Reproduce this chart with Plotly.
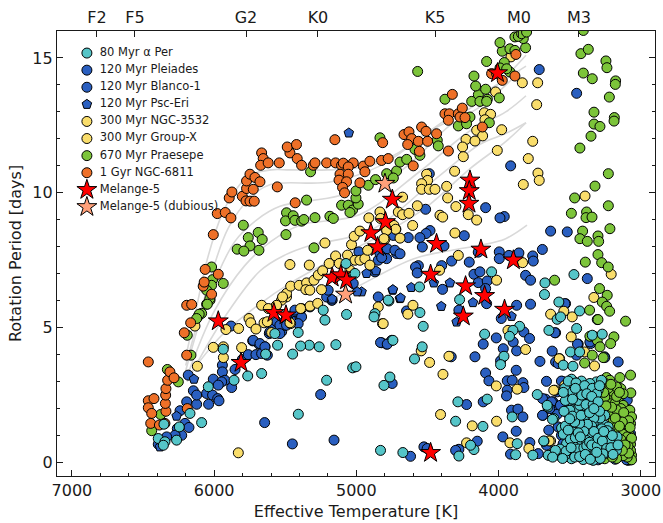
import plotly.graph_objects as go

ALPHA_PER = [(4556,6.51),(4049,7.07),(4274,6.04),(4553,5.56),(4530,5.05),(4743,4.53),(4771,5.99),(4537,4.29),(4591,3.84),(4098,4.76),(3962,3.94),(3986,3.63),(3852,5.05),(3899,4.9),(3923,4.68),(3674,6.66),(3677,6.23),(3470,6.97),(3576,5.95),(3588,5.31),(3564,5.4),(3430,5.62),(3646,4.9),(3451,4.97),(3494,4.1),(3430,4.1),(3341,4.72),(3271,4.76),(3545,3.61),(3477,3.57),(3728,2.52),(4080,2.35),(4286,2.25),(4764,3.17),(4806,2.86),(4302,1.53),(4110,1.34),(3904,1.69),(3869,.7),(3681,.79),(3646,.27),(3759,.27),(3880,.29),(4173,.48),(4197,.64),(4279,.24),(4673,.37),(3576,.27),(4830,.45),(3557,1.28),(3611,1.63),(3653,2.06),(3494,3.05),
(5073,7.38),(5010,7.01),(5221,5.28),(5233,5.65),(5409,4.82),(5573,4.78),(5069,5.49),(4869,5.52),(4876,5.4),(4776,6.02),(5144,4.37),(5261,4.29),(5331,4.35),(5392,4.32),(5554,4.35),(5936,4.2),(6041,2.81),(5860,3.05),(5764,3.21),(5666,3.3),(5638,4.02),(5448,4.02),(5209,3.05),(5408,1.79),(6088,1.48),(6170,1.82),(6353,1.42),(6245,1.32),(6264,.83),(6393,.89),(6346,.77),(6357,.64),(5026,3.51),(5003,3.55),
(3487,3.09),(3417,3.02),(3312,2.99),(3300,2.68),(3447,2.55),(3358,2.49),(3405,2.37),(3323,2.37),(3476,2.12),(3658,2.12),(3382,1.96),(3452,1.94),(3621,1.6),(3316,1.81),(3312,1.47),(3265,1.44),(3487,1.42),(3405,1.59),(3452,1.59),(3358,1.57),(3229,1.32),(3447,1.29),(3412,1.01),(3288,1.01),(3347,1.01),(3166,.95),(3323,.8),(3417,.68),(3246,.7),(3190,.55),(3347,.48),(3682,.8),(3651,.27),(3581,.31),(3511,.39),(3452,.33),(3370,.23),(3300,.2),(3229,.39),(3487,.14),(3405,.45),(3476,.64),(3534,.27),(3464,2.31),(3499,1.94),(3429,2.12),(3370,2.18),(3253,1.75),(3417,1.32),(3370,1.26),(3476,1.13),(3382,.82),(3440,.5),(3276,.52),(3323,.33),(3253,1.01),(3218,.82),(3511,2.43),(3394,2.68),(3429,2.74),(3358,2.93),(3276,3.05),(3476,2.86),(3499,2.31),(3522,.7),(3569,.5),(3405,.11),(3335,.08),(3253,.33),(3171,.45),
(3540,1.9),(3545,1.05),(3530,1.35),(3535,2.75),(3510,3.02),(3480,2.62),(3455,2.95),(3440,2.3),(3415,2.5),(3395,2.85),(3385,2.15),(3340,2.75),(3335,2.15),(3310,2.55),(3290,2.85),(3285,1.65),(3300,1.2),(3275,1.25),(3330,1.65),(3345,1.35),(3330,1.15),(3390,1.75),(3375,1.42),(3400,1.15),(3430,1.45),(3465,1.5),(3480,1.72),(3500,1.62),(3510,1.2),(3495,.85),(3460,.92),(3440,1.1),(3425,.95),(3400,.55),(3380,.62),(3360,.75),(3345,.65),(3305,.62),(3300,.9),(3270,.8),(3240,.52),(3265,.32),(3285,.15),(3210,.55),(3195,.3),(3160,.65),(3215,1.1),(3235,1.18),(3200,1.0),(3525,.42),(3490,.55),(3465,.2),(3430,.22),(3390,.3),(3355,.12),(3310,.38),(3550,.15),(3600,.45),(3620,.2),(3460,2.75),(3380,2.55),(3345,2.45),(3300,2.25),(3290,1.9),(3260,1.15),(3530,2.3),(3545,2.6),(3480,2.35),(3420,1.75),(3360,1.85),(3330,2.0)]

PLEIADES = [(5877,2.78),(5942,3.61),(5942,3.36),(5924,3.05),(6006,3.09),(5947,2.99),(5971,2.87),(6053,2.56),(6011,2.5),(5975,2.37),(5966,2.29),(6039,2.16),(6123,2.16),(6146,2.66),(6123,2.5),(6193,2.25),(6240,1.92),(6205,1.45),(6177,1.3),(6259,1.26),(6228,1.01),(6275,1.01),(6334,.95),(6393,.68),(6182,3.24),(5853,3.45),(5802,3.82),(5760,4.0),(5706,4.0),(5729,4.51),(5685,4.39),(5642,4.29),(5666,4.04),(5626,3.98),(5645,1.48),(5450,.69),(5251,2.52),(5157,.83),(5881,5.06),(5612,4.78),(5584,5.03),(5525,4.85),(5560,5.22),(5502,5.09),(5467,5.4),(5420,5.28),(5396,5.4),(5431,5.59),(5174,6.02),(5725,4.53),(5678,4.41),(5643,4.29),(5608,4.84),(5538,5.09),(5432,5.65),(5385,5.4),(5409,5.15),(5326,5.77),(5209,6.14),(5198,6.39),(5170,6.02),(5027,7.01),(5022,6.64),(4846,6.14),(4823,4.44),(4752,4.53),(4787,4.39),(4846,7.5),(4787,7.56),(4834,7.75),(4783,7.93),(4717,7.75),(4982,7.81),(4869,7.07),(5491,5.4),(5491,5.09),(5538,4.78),
(3714,14.57),(3451,13.69),(3915,11.0),(4091,9.45),(3960,9.12),(3990,9.07),(4513,9.39),(4482,8.6),(4510,8.49),(4553,8.34),(4635,8.34),(4740,8.42),(4241,8.41),(3634,8.58),(3517,8.55),(3692,7.9),(4536,7.99),(4384,8.03),(4729,7.87),(4693,7.74),(4822,7.6),(4330,7.47),(4206,7.43),(3995,7.81),(3995,7.56),(3927,7.68),(3857,7.77),(3760,7.66),(3756,7.47),(4487,10.71),(4564,7.3),(4400,7.3),(4143,7.8)]

BLANCO = [(4584,7.25),(4572,7.03),(4173,6.98),(4131,7.07),(4143,6.67),(4080,6.73),(4091,6.45),(4084,5.89),(4394,6.42),(3810,6.94),(3775,6.76),(3775,5.87),(3873,5.83),(3981,5.34),(4279,5.65),(4647,5.62),(3822,4.84),(3782,4.6),(4016,4.62),(4108,4.39),(3897,4.47),(3967,4.22),(3873,4.14),(3623,4.13),(4166,3.92),(4333,3.92),(3986,3.77),(3709,3.75),(3876,3.42),(4091,3.32),(4068,3.03),(3939,3.03),(3904,3.05),(3829,2.96),(3939,2.68),(3944,2.47),(3822,2.78),(4748,2.93),(4830,4.45),(4783,4.39),(4225,2.15),(4108,2.25),(3909,1.94),(3864,1.98),(3829,1.69),(3688,1.75),(3876,1.16),(3970,.95),(4150,.79),(4279,.49),(4302,.45),(4525,.58),(4502,.52),(4619,.23),(3916,.31),(3780,.74),(3721,.33),(3541,.7),(3670,2.35),(3658,2.19),(3618,2.25),(3552,2.12),(3611,1.94),(3587,1.79),(3552,3.01),(3587,2.62),(3599,3.73),(3440,4.39),(3353,4.41),(3255,3.92),(3159,3.73),(3529,5.89),(3376,6.82),(3306,5.3),(3599,4.81),(3470,2.99),(3095,2.31),(3083,1.94),(3072,.21),(3072,1.07),(3663,3.01),(3558,3.02),(3691,2.37),(3628,2.25),(3565,2.12),(3691,1.75),(3640,2.0),(3647,1.2),(3581,1.32),(3558,1.01),(3546,.7),(3511,1.81),(3096,1.94),(3663,.64),(3089,.08),(3534,5.89),(3604,4.81),(3445,4.39),(3358,4.47),(3452,3.98),(3581,3.67),(3253,3.89),(3085,.15),(3070,.1),(3100,.1),(3180,.12),(3300,.1),(3400,.15),(3500,.2),(3560,.35)]

PSC_ERI = [(5053,12.22),(4928,7.01),(4862,7.11),(4963,6.33),(4994,6.33),(5170,6.06),(4745,6.39),(4694,6.08),(4743,6.41),(4689,6.1),(4614,6.49),(4342,6.66),(4403,5.79),(4180,5.93),(4455,6.66),(4295,5.21),(3909,5.42),(6142,3.09),(6264,1.72),(6381,.58)]

NGC3532 = [(5830,.36),(6118,3.57),(6006,4.27),(5935,4.29),(5935,3.89),(5807,4.26),(6135,5.06),(5917,4.93),(5828,4.97),(5755,5.34),(5743,5.18),(5706,4.95),(5649,5.18),(5626,5.22),(5666,5.83),(5596,4.82),(5462,5.15),(5565,5.8),(5619,5.71),(5385,5.71),(5326,5.8),(5272,5.9),(5467,5.18),(5491,6.14),(5526,6.02),(5491,6.27),(5462,6.54),(5402,6.57),(5350,6.66),(5355,6.41),(5327,6.39),(5298,6.76),(5245,6.41),(5268,6.95),(5237,7.11),(5467,7.34),(5331,7.32),(5221,8.14),(5146,7.66),(5191,7.38),(5120,7.38),(5062,7.69),(5034,8.08),(5015,8.39),(4975,8.58),(5010,7.5),(4975,7.5),(4940,7.56),(4921,7.87),(4905,7.32),(5045,7.13),(4912,9.07),(4834,9.29),(4830,9.05),(4787,8.61),(4722,8.65),(4846,5.77),(4816,5.15),(4799,8.28),(4788,8.8),(5519,6.14),(5561,5.83),(5392,5.71)]

GROUP_X = [(3833,14.08),(3725,14.08),(4021,13.74),(3732,13.27),(4100,12.97),(4056,12.91),(4096,12.71),(3913,15.04),(3978,12.34),(4154,12.32),(4112,12.11),(4229,11.98),(4166,11.92),(4253,11.7),(4009,11.57),(3760,11.91),(4248,11.34),(3791,11.27),(4309,10.8),(4506,10.69),(3723,10.73),(3714,10.46),(3826,10.31),(4499,10.46),(4541,10.34),(4541,10.13),(4487,10.13),(4447,10.13),(4365,10.24),(4675,9.84),(4358,9.81),(4571,9.52),(4300,9.49),(3392,9.88),(4705,9.29),(4675,9.19),(4630,9.24),(4412,9.17),(4393,9.1),(4213,9.19),(4154,8.99),(4604,8.79),(4736,8.79),(4724,8.65),(4693,8.32),(4787,8.61),(4806,8.3),(4307,8.51),(4283,7.68),(3831,7.41),(4415,7.13),(4014,6.76),(4602,5.83),(4638,5.5),(4811,5.15),(4544,4.14),(4485,3.71),(4391,3.27),(4349,3.94),(3934,4.9),(3810,4.19),(3634,5.5),(3482,5.4),(3489,4.66),(3330,6.12),(3208,6.98),(3571,3.85),(3325,3.58),(3395,4.1),(4016,2.84),(3869,2.72),(3604,2.68),(3534,2.86),(4408,1.78),(4185,1.36),(4014,1.53),(4225,.73),(3920,.73),(3787,.52),(3634,.8),(3447,1.69),(3612,2.68),(3452,1.71),(3644,.8),(3541,5.61),(3574,3.85)]

PRAESEPE = [(6329,3.45),(6252,2.99),(6439,1.18),(6376,1.78),(6111,5.43),(6088,5.53),(6053,5.87),(6029,6.02),(6163,3.98),(6018,7.25),(6011,6.78),(6018,6.57),(5936,6.64),(6053,6.39),(6030,6.08),(6048,5.87),(6105,5.5),(6123,5.34),(6189,4.72),(5795,8.8),(5760,8.34),(5690,8.53),(5662,8.27),(5748,8.03),(5838,7.91),(5791,7.84),(5685,7.87),(5495,8.45),(5491,9.26),(5498,8.96),(5444,9.15),(5432,8.98),(5385,8.95),(5369,9.01),(5291,9.08),(5186,9.13),(5162,9.05),(5350,9.73),(5298,7.96),(5322,10.78),(5104,9.54),(5057,9.54),(5027,9.36),(5045,9.27),(4987,9.58),(5003,9.81),(5003,10.07),(4916,10.28),(4865,10.49),(4787,10.71),(4717,10.81),(4740,10.55),(4693,11.14),(4646,11.24),(4588,11.61),(4553,11.39),(4431,11.95),(4424,11.74),(4834,12.04),(4377,13.47),(4201,12.81),(4283,12.48),(4225,12.56),(4065,12.6),(4189,13.39),(4142,13.64),(4131,13.39),(4079,13.47),(4084,13.39),(4091,13.84),(4161,13.96),(4173,14.33),(3995,13.52),(4084,14.87),(4569,14.5),(3960,14.83),(3990,14.63),(3920,14.48),(3943,14.6),(3974,15.25),(3990,15.57),(3920,15.34),(3885,15.28),(3810,15.38),(3826,15.72),(3885,15.78),(3861,15.8),(3838,15.9),(3803,15.96),(3404,16.02),
(3421,15.16),(3369,15.32),(3404,14.44),(3341,14.23),(3245,14.89),(3238,14.64),(3177,14.15),(3179,14.02),(3221,13.55),(3329,12.99),(3329,12.55),(3287,12.46),(3186,12.79),(3188,12.66),(3350,12.1),(3428,11.66),(3228,10.71),(3322,10.25),(3465,9.81),(3228,9.52),(3488,9.24),(3381,9.29),(3385,9.08),(3343,9.1),(3217,8.67),(3409,8.58),(3428,8.3),(3376,8.2),(3301,8.4),(3296,8.2),(3301,7.71),(3390,7.43),(3275,7.41),(3229,7.25),(3606,6.76),(3290,6.45),(3236,6.2),(3271,5.95),(3240,5.79),(3219,5.61),(3360,5.65),(3301,5.3),(3107,5.24),(3358,4.68),(3330,4.68),(3306,4.53),(3189,4.66),(3212,4.41),(3287,4.29),(3341,3.98),(3264,3.89),(3395,3.69),(3072,3.24),(3147,3.15),
(3241,3.15),(3218,3.05),(3140,2.74),(3190,2.58),(3070,2.58),(3229,2.31),(3159,2.31),(3218,2.18),(3124,2.12),(3276,2.18),(3229,1.94),(3147,1.81),(3100,1.63),(3194,1.57),(3072,1.44),(3136,1.2),(3089,1.2),(3265,2.0),(3100,.82),(3072,.68),(3065,.27),(3147,.33),(3476,.95),(3499,1.13),(3429,.82),(3124,.7),(3253,.14),(3112,1.44),(3171,1.32),(3077,1.0),(3112,.45),(3072,.45),(3206,1.81),(3253,2.43),(3183,2.18),(3077,1.94),(3065,1.69),(3124,2.55),(3171,2.8),
(3255,2.95),(3230,2.75),(3210,2.9),(3170,2.45),(3150,2.6),(3140,2.0),(3170,1.95),(3120,1.85),(3085,1.55),(3130,1.5),(3180,1.65),(3160,1.1),(3125,1.05),(3095,.95),(3065,.9),(3140,.85),(3165,.7),(3090,.6),(3065,.1),(3095,.2),(3125,.25),(3170,.15),(3200,.2),(3085,.35),(3110,.65),(3205,2.05),(3245,2.1),(3260,2.6),(3285,2.85),(3150,1.35),(3075,1.3),(3180,.45),(3130,.45),(3480,1.2),(3460,.6),(3410,.3),(3480,.4)]

NGC6811 = [(6463,3.73),(6463,2.29),(6423,2.37),(6463,2.03),(6439,1.82),(6446,1.45),(6385,1.39),(6346,1.45),(6339,1.9),(6343,2.19),(6341,2.5),(6339,2.74),(6327,3.05),(6311,3.36),(6282,3.14),(6189,2.0),(6193,3.98),(6165,5.18),(6210,4.81),(6193,5.83),(6158,5.86),(6018,6.24),(6077,6.54),(6070,6.69),(5971,6.98),(6063,7.16),(6006,8.45),(5978,9.23),(5922,9.27),(5882,9.07),(5894,9.81),(5875,10.03),(5802,9.87),(5776,9.7),(5748,9.69),(5718,9.69),(5772,10.16),(5725,10.13),(5772,10.44),(5748,10.69),(5713,10.57),(5678,10.41),(5556,10.22),(5430,9.63),(5666,11.48),(5655,11.27),(5673,11.02),(5620,11.11),(5542,11.11),(5467,11.48),(5416,11.27),(5385,11.02),(5303,11.02),(5291,11.11),(5209,11.11),(5146,11.11),(5104,11.02),(5092,11.1),(5022,11.11),(5057,10.96),(4951,10.99),(4940,10.78),(4905,11.17),(4823,11.2),(4776,11.27),(5115,10.69),(5057,10.69),(5122,10.47),(5069,10.41),(5097,10.2),(5083,10.0),(4975,10.37),(5486,11.7),(5421,11.79),(5151,11.97),(4815,11.86),(4600,11.0),(4353,11.55),(4665,12.16),(4630,12.26),(4611,12.01),(4564,11.91),(4639,11.79),(4499,11.91),(4541,12.44),(4510,12.28),(4436,12.19),(4557,11.54),(4377,12.93),(4346,12.93),(4353,12.69),(4283,12.93),(4255,13.14),(4271,12.81),(4236,12.79),(4325,13.65),(4114,12.44),(4049,14.42),(4014,14.42),(3974,14.17),(3885,14.33),(3878,15.13)]

MELANGE5 = [(5971,5.24),(5811,3.7),(5580,5.55),(5495,5.46),(5170,6.86),(5109,6.95),(5069,6.76),(4898,8.51),(4795,8.92),(4851,7.99),(4747,9.75),(4436,8.11),(4124,7.9),(4201,10.46),(4206,10.07),(4208,9.6),(4007,14.44),(3896,7.5),(4478,6.97),(4232,6.54),(4098,6.18),(4248,5.42),(3958,5.67),(4478,.36)]
MELANGE5_DUBIOUS = [(5076,6.23),(4799,10.34)]

GYROCHRONES = [
 [(6200,3.9),(6130,5.6),(6050,7.5),(5945,9.2),(5850,10.1),(5748,10.65),(5600,10.85),(5467,10.85),(5200,10.85),(4904,11.0),(4700,11.5),(4482,12.3),(4300,12.8),(4131,13.4),(3950,14.3),(3807,15.1)],
 [(6200,3.6),(6100,5.5),(6000,7.3),(5900,8.7),(5750,9.8),(5608,10.3),(5185,10.4),(4833,11.0),(4482,12.3),(4130,13.6),(3807,14.7)],
 [(6200,3.4),(6050,6.0),(5854,8.2),(5700,9.0),(5537,9.5),(5115,9.9),(4693,10.8),(4342,12.5),(4100,13.3),(3850,14.5)],
 [(6190,3.2),(6000,5.6),(5785,7.3),(5600,8.2),(5397,8.8),(4975,9.2),(4552,10.8),(4200,12.3),(3950,13.0),(3807,13.6)],
 [(6190,3.0),(5950,5.2),(5678,7.1),(5500,7.7),(5326,8.05),(4904,8.6),(4412,10.65),(4131,11.8),(3950,12.2),(3807,12.6)],
 [(6180,3.2),(5950,4.7),(5700,5.8),(5450,6.7),(5100,7.7),(4800,8.5),(4500,9.5),(4200,10.9),(3950,11.9),(3807,12.6)],
 [(6150,2.2),(6000,3.0),(5770,3.9),(5446,5.3),(5000,6.5),(4600,7.55),(4300,7.9),(4131,8.05),(3950,8.3),(3800,8.8)],
]

SPECTRAL_TEFF = [6824, 6557, 5776, 5270, 4447, 3857, 3435]
SPECTRAL_LABELS = ["F2", "F5", "G2", "K0", "K5", "M0", "M3"]

TEAL, BLUE, YELLOW, GREEN, ORANGE = "#55C5C8", "#2A5FC0", "#F9DD6B", "#7CC43A", "#EE7028"
RED, SALMON = "#FF0000", "#FFA07A"

LEGEND_LABELS = ["80 Myr α Per", "120 Myr Pleiades", "120 Myr Blanco-1", "120 Myr Psc-Eri",
                 "300 Myr NGC-3532", "300 Myr Group-X", "670 Myr Praesepe", "1 Gyr NGC-6811",
                 "Melange-5", "Melange-5 (dubious)"]
LEGEND_COLORS = [TEAL, BLUE, BLUE, BLUE, YELLOW, YELLOW, GREEN, ORANGE, RED, SALMON]
LEGEND_SYMBOLS = ["circle"] * 3 + ["pentagon"] + ["circle"] * 4 + ["star", "star"]
DOT = 10
STAR = 15
LEGEND_SIZES = [DOT] * 8 + [STAR, STAR]

FONT = "DejaVu Sans"
INK = "#1a1a1a"

fig = go.Figure()
for curve in GYROCHRONES:
    fig.add_trace(go.Scatter(x=[p[0] for p in curve], y=[p[1] for p in curve], mode="lines",
                             line=dict(color="#D9D9D9", width=1.6, shape="spline"),
                             showlegend=False, hoverinfo="skip"))

def cloud(name, pts, color, symbol="circle", size=DOT):
    fig.add_trace(go.Scatter(x=[p[0] for p in pts], y=[p[1] for p in pts], mode="markers", name=name,
                             showlegend=False,
                             marker=dict(color=color, symbol=symbol, size=size,
                                         line=dict(color="black", width=1))))

cloud("120 Myr Pleiades", PLEIADES, BLUE)
cloud("120 Myr Blanco-1", BLANCO, BLUE)
cloud("120 Myr Psc-Eri", PSC_ERI, BLUE, "pentagon")
cloud("300 Myr NGC-3532", NGC3532, YELLOW)
cloud("300 Myr Group-X", GROUP_X, YELLOW)
cloud("670 Myr Praesepe", PRAESEPE, GREEN)
cloud("1 Gyr NGC-6811", NGC6811, ORANGE)
cloud("80 Myr α Per", ALPHA_PER, TEAL)
cloud("Melange-5", MELANGE5, RED, "star", STAR)
cloud("Melange-5 (dubious)", MELANGE5_DUBIOUS, SALMON, "star", STAR)

rows = list(range(len(LEGEND_LABELS)))
fig.add_trace(go.Scatter(x=[0.05] * len(rows), y=rows, xaxis="x3", yaxis="y3", mode="markers",
                         showlegend=False, hoverinfo="skip",
                         marker=dict(color=LEGEND_COLORS, symbol=LEGEND_SYMBOLS, size=LEGEND_SIZES,
                                     opacity=1, line=dict(color="black", width=1))))
fig.add_trace(go.Scatter(x=[0.0715] * len(rows), y=rows, xaxis="x3", yaxis="y3", mode="text",
                         text=LEGEND_LABELS, textposition="middle right", showlegend=False,
                         hoverinfo="skip", textfont=dict(family=FONT, size=11.5, color=INK)))
fig.add_trace(go.Scatter(x=SPECTRAL_TEFF, y=[None] * len(SPECTRAL_TEFF), xaxis="x2", mode="markers",
                         showlegend=False, hoverinfo="skip", marker=dict(opacity=0)))

axis_common = dict(showgrid=False, zeroline=False, automargin=False, ticks="inside", ticklen=6, tickwidth=1.1,
                   tickcolor=INK, showline=True, linecolor=INK, linewidth=1.4,
                   tickfont=dict(family=FONT, size=16, color=INK))
fig.update_layout(
    width=663, height=523, autosize=False,
    margin=dict(l=57, r=8, t=31, b=47),
    paper_bgcolor="white", plot_bgcolor="white",
    showlegend=False,
    font=dict(family=FONT, color=INK),
    xaxis=dict(axis_common, range=[7105, 2900], tickvals=[7000, 6000, 5000, 4000, 3000],
               ticktext=["7000", "6000", "5000", "4000", "3000"], mirror=True,
               minor=dict(ticks="inside", dtick=200, tick0=3000, ticklen=3, tickwidth=1, tickcolor=INK),
               title=dict(text="Effective Temperature [K]", font=dict(family=FONT, size=16, color=INK), standoff=6)),
    xaxis2=dict(axis_common, overlaying="x", side="top", anchor="y", range=[7105, 2900],
                tickvals=SPECTRAL_TEFF, ticktext=SPECTRAL_LABELS),
    yaxis=dict(axis_common, range=[-0.5, 16], tickvals=[0, 5, 10, 15], mirror="ticks",
               minor=dict(ticks="inside", dtick=1, tick0=0, ticklen=3, tickwidth=1, tickcolor=INK),
               title=dict(text="Rotation Period [days]", font=dict(family=FONT, size=16, color=INK), standoff=6)),
    xaxis3=dict(overlaying="x", range=[0, 1], visible=False, anchor="y3"),
    yaxis3=dict(overlaying="y", range=[24.74, -1.29], visible=False, anchor="x3"),
)
# Remove the page's default body margin so the 663x523 figure fills the window without scrolling.
fig.write_html("out.html", config={"displayModeBar": False},
               post_script="document.documentElement.style.overflow='hidden';document.body.style.margin='0';")
